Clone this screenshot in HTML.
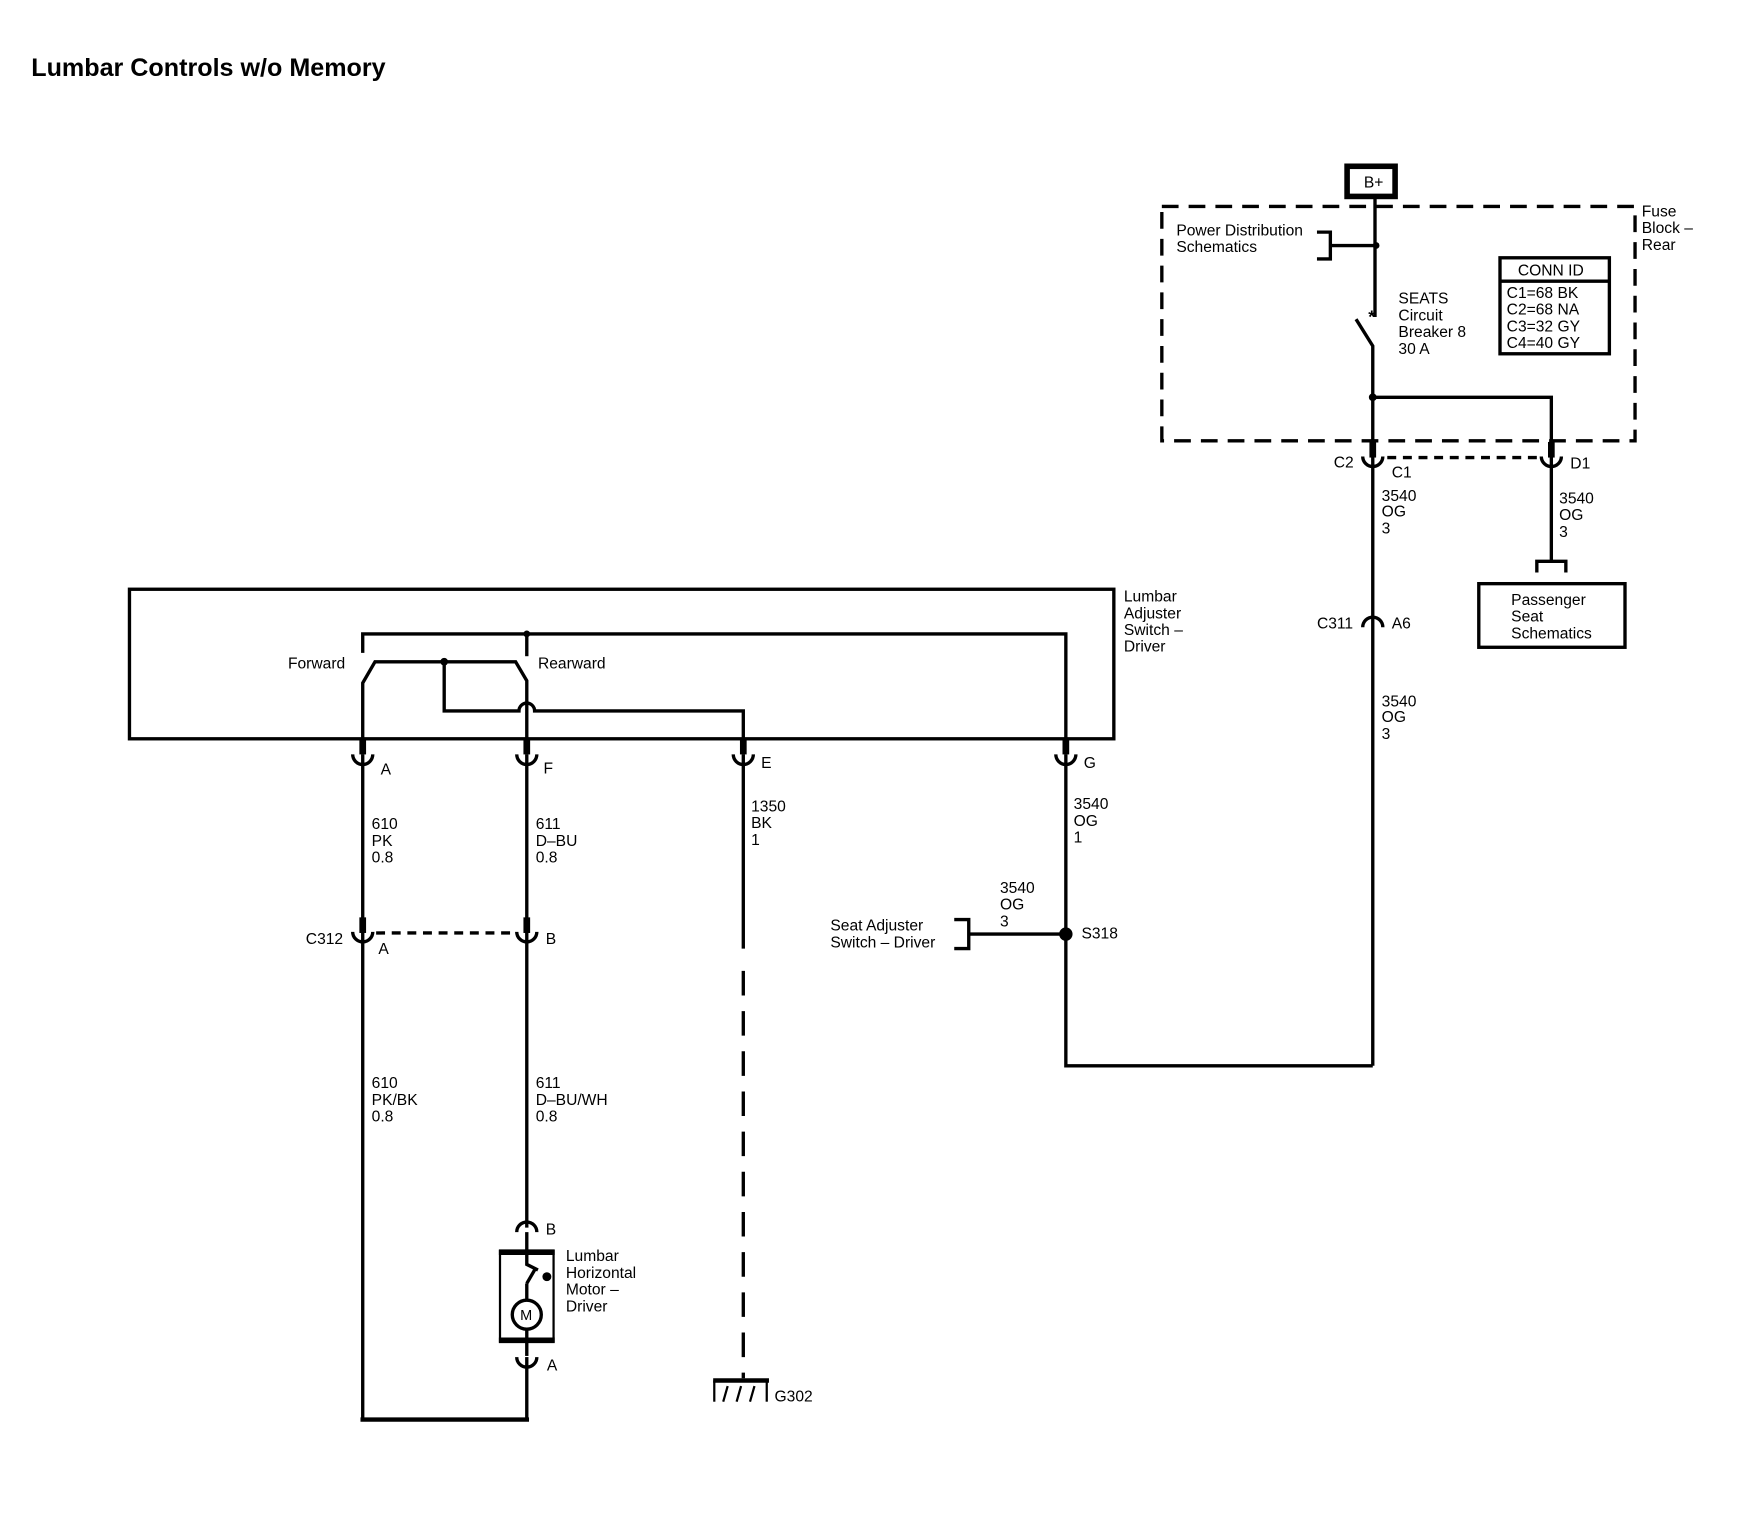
<!DOCTYPE html>
<html><head><meta charset="utf-8"><style>
html,body{margin:0;padding:0;background:#fff}
svg{display:block}
text{font-family:"Liberation Sans",Arial,sans-serif;font-size:14px;fill:#000}
</style></head><body>
<svg width="1750" height="1520" viewBox="0 0 1568 1362" preserveAspectRatio="none" xmlns="http://www.w3.org/2000/svg">
<g fill="none" stroke="#000" stroke-width="3">
<rect x="1207" y="149" width="43" height="27" stroke-width="5"/>
<line x1="1232" y1="178" x2="1232" y2="284"/>
<path d="M1180 208 H1192 V232 H1180 M1192 220 H1233"/>
<path d="M1215 286 L1230 310 V397"/>
<path d="M1230 356 H1390 V397"/>
<rect x="1041" y="185" width="424" height="210" stroke-dasharray="15 9"/>
<rect x="1344" y="231" width="98" height="86"/>
<line x1="1344" y1="252" x2="1442" y2="252"/>
<path d="M1243 410 H1380" stroke-dasharray="8 6"/>
<line x1="1230" y1="396" x2="1230" y2="410" stroke-width="6"/>
<path d="M1221 409 A9 9 0 0 0 1239 409"/>
<line x1="1390" y1="396" x2="1390" y2="410" stroke-width="6"/>
<path d="M1381 409 A9 9 0 0 0 1399 409"/>
<line x1="1230" y1="410" x2="1230" y2="955"/>
<line x1="1390" y1="410" x2="1390" y2="503"/>
<path d="M1377 513 V503 H1403 V513"/>
<rect x="1325" y="523" width="131" height="57"/>
<path d="M1221 562 A9 9 0 0 1 1239 562"/>
<rect x="116" y="528" width="882" height="134"/>
<path d="M325 585 V568 H955 V662"/>
<path d="M472 568 V588"/>
<path d="M325 662 V612 L336 593 H462 L472 610 V662"/>
<path d="M398 593 V637 H465 A7 7 0 0 1 479 637 H666 V662"/>
<g>
<line x1="325" y1="662" x2="325" y2="676" stroke-width="6"/><path d="M316 676 A9 9 0 0 0 334 676"/>
<line x1="472" y1="662" x2="472" y2="676" stroke-width="6"/><path d="M463 676 A9 9 0 0 0 481 676"/>
<line x1="666" y1="662" x2="666" y2="676" stroke-width="6"/><path d="M657 676 A9 9 0 0 0 675 676"/>
<line x1="955" y1="662" x2="955" y2="676" stroke-width="6"/><path d="M946 676 A9 9 0 0 0 964 676"/>
</g>
<line x1="325" y1="676" x2="325" y2="1272"/>
<line x1="472" y1="676" x2="472" y2="1100"/>
<line x1="666" y1="676" x2="666" y2="850"/>
<line x1="666" y1="870" x2="666" y2="1235" stroke-dasharray="22 14"/>
<path d="M955 676 V955 H1230"/>
<line x1="325" y1="822" x2="325" y2="836" stroke-width="6"/><path d="M316 835 A9 9 0 0 0 334 835"/>
<line x1="472" y1="822" x2="472" y2="836" stroke-width="6"/><path d="M463 835 A9 9 0 0 0 481 835"/>
<path d="M337 836 H462" stroke-dasharray="8 6"/>
<path d="M868 837 H955"/>
<path d="M855 824 H868 V850 H855"/>
<path d="M463 1104 A9 9 0 0 1 481 1104"/>
<rect x="448" y="1121" width="48" height="81" stroke-width="2"/>
<line x1="447" y1="1122" x2="497" y2="1122" stroke-width="5"/>
<line x1="447" y1="1201" x2="497" y2="1201" stroke-width="5"/>
<path d="M472 1104 V1133 L482 1138 M472 1150 L479 1138 M472 1150 V1164"/>
<circle cx="472" cy="1178" r="13"/>
<path d="M472 1191 V1215"/>
<path d="M463 1216 A9 9 0 0 0 481 1216"/>
<path d="M472 1216 V1272"/>
<line x1="323" y1="1272" x2="474" y2="1272" stroke-width="4"/>
<line x1="639" y1="1237" x2="689" y2="1237" stroke-width="4"/>
<line x1="640" y1="1237" x2="640" y2="1256" stroke-width="2"/>
<line x1="687" y1="1237" x2="687" y2="1256" stroke-width="2"/>
<path d="M648 1256 L652 1242 M660 1256 L664 1242 M672 1256 L676 1242" stroke-width="2"/>
</g>
<g fill="#000">
<circle cx="1233" cy="220" r="3"/>
<circle cx="1230" cy="356" r="3.5"/>
<circle cx="398" cy="593" r="3.5"/>
<circle cx="472" cy="568" r="3"/>
<circle cx="955" cy="837" r="6"/>
<circle cx="490" cy="1144" r="4"/>
</g>
<text x="28" y="68" style="font-size:22.5px;font-weight:bold">Lumbar Controls w/o Memory</text>
<text x="1222" y="168">B+</text>
<text x="1226" y="289" style="font-size:16px;font-weight:bold">*</text>
<text x="1054" y="211">Power Distribution</text><text x="1054" y="226">Schematics</text>
<text x="1253" y="272">SEATS</text><text x="1253" y="287">Circuit</text><text x="1253" y="302">Breaker 8</text><text x="1253" y="317">30 A</text>
<text x="1360" y="247">CONN ID</text>
<text x="1350" y="267">C1=68 BK</text><text x="1350" y="282">C2=68 NA</text><text x="1350" y="297">C3=32 GY</text><text x="1350" y="312">C4=40 GY</text>
<text x="1471" y="194">Fuse</text><text x="1471" y="209">Block –</text><text x="1471" y="224">Rear</text>
<text x="1195" y="419">C2</text><text x="1247" y="428">C1</text><text x="1407" y="420">D1</text>
<text x="1238" y="449">3540</text><text x="1238" y="463">OG</text><text x="1238" y="478">3</text>
<text x="1397" y="451">3540</text><text x="1397" y="466">OG</text><text x="1397" y="481">3</text>
<text x="1354" y="542">Passenger</text><text x="1354" y="557">Seat</text><text x="1354" y="572">Schematics</text>
<text x="1180" y="563">C311</text><text x="1247" y="563">A6</text>
<text x="1238" y="633">3540</text><text x="1238" y="647">OG</text><text x="1238" y="662">3</text>
<text x="1007" y="539">Lumbar</text><text x="1007" y="554">Adjuster</text><text x="1007" y="569">Switch –</text><text x="1007" y="584">Driver</text>
<text x="258" y="599">Forward</text><text x="482" y="599">Rearward</text>
<text x="341" y="694">A</text><text x="487" y="693">F</text><text x="682" y="688">E</text><text x="971" y="688">G</text>
<text x="333" y="743">610</text><text x="333" y="758">PK</text><text x="333" y="773">0.8</text>
<text x="480" y="743">611</text><text x="480" y="758">D–BU</text><text x="480" y="773">0.8</text>
<text x="673" y="727">1350</text><text x="673" y="742">BK</text><text x="673" y="757">1</text>
<text x="962" y="725">3540</text><text x="962" y="740">OG</text><text x="962" y="755">1</text>
<text x="274" y="846">C312</text><text x="339" y="855">A</text><text x="489" y="846">B</text>
<text x="896" y="800">3540</text><text x="896" y="815">OG</text><text x="896" y="830">3</text>
<text x="969" y="841">S318</text>
<text x="744" y="834">Seat Adjuster</text><text x="744" y="849">Switch – Driver</text>
<text x="333" y="975">610</text><text x="333" y="990">PK/BK</text><text x="333" y="1005">0.8</text>
<text x="480" y="975">611</text><text x="480" y="990">D–BU/WH</text><text x="480" y="1005">0.8</text>
<text x="489" y="1106">B</text>
<text x="507" y="1130">Lumbar</text><text x="507" y="1145">Horizontal</text><text x="507" y="1160">Motor –</text><text x="507" y="1175">Driver</text>
<text x="466" y="1183" style="font-size:13px">M</text>
<text x="490" y="1228">A</text>
<text x="694" y="1256">G302</text>
</svg>
</body></html>
